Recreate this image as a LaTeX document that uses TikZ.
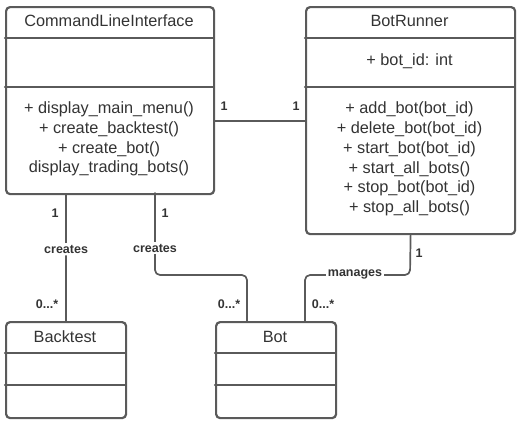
\documentclass[tikz,border=0pt]{standalone}
\usepackage{fontspec}
\setmainfont{Liberation Sans}
\usetikzlibrary{positioning}
\definecolor{umlline}{HTML}{5A5A5A}
\definecolor{umltext}{HTML}{333333}
\tikzset{
  classbox/.style={draw=umlline,line width=2.2pt,rounded corners=4pt,anchor=north west,inner sep=0pt},
  divider/.style={draw=umlline,line width=2.2pt},
  ctext/.style={text=umltext,font=\fontsize{16.3}{19.7}\selectfont,align=center,inner sep=0pt},
  mult/.style={text=umltext,font=\fontsize{12.5}{14}\selectfont\bfseries,inner sep=1pt},
  assoc/.style={draw=umlline,line width=1.7pt,rounded corners=5pt},
  rolelabel/.style={mult,fill=white,inner sep=2pt},
}
\begin{document}
\begin{tikzpicture}[x=1pt,y=-1pt,line cap=round,line join=round]
\useasboundingbox (0,0) rectangle (519,421);
% classes
\node[classbox,minimum width=208pt,minimum height=187pt] (cli) at (5,6) {};
\node[classbox,minimum width=209pt,minimum height=227pt] (br) at (305,6) {};
\node[classbox,minimum width=120pt,minimum height=96pt] (bt) at (5,321) {};
\node[classbox,minimum width=120pt,minimum height=96pt] (bot) at (215,321) {};
\draw[divider] (5,38) -- (213,38);
\draw[divider] (5,87) -- (213,87);
\draw[divider] (305,38) -- (514,38);
\draw[divider] (305,87) -- (514,87);
\draw[divider] (5,353) -- (125,353);
\draw[divider] (5,385) -- (125,385);
\draw[divider] (215,353) -- (335,353);
\draw[divider] (215,385) -- (335,385);
% class texts
\node[ctext] (clititle) at (109,21) {CommandLineInterface};
\node[ctext] (climeth) at (109,139) {+ display\_main\_menu()\\+ create\_backtest()\\+ create\_bot()\\display\_trading\_bots()};
\node[ctext] (brtitle) at (409.5,21) {BotRunner};
\node[ctext] (brattr) at (409.5,61) {+ bot\_id: int};
\node[ctext] (brmeth) at (409.5,159) {+ add\_bot(bot\_id)\\+ delete\_bot(bot\_id)\\+ start\_bot(bot\_id)\\+ start\_all\_bots()\\+ stop\_bot(bot\_id)\\+ stop\_all\_bots()};
\node[ctext] (bttitle) at (65,337) {Backtest};
\node[ctext] (bottitle) at (275,337) {Bot};
% associations
\draw[assoc] (cli.east |- 0,121) -- (br.west |- 0,121);
\draw[assoc] (bt.north |- cli.south) -- (bt.north) node[rolelabel,pos=0.43] (c1) {creates};
\draw[assoc] (155,193) -- (155,275) -- (247,275) -- (247,321);
\node[rolelabel] (c2) at (155,248) {creates};
\draw[assoc] (br.south) -- (410,275) -- (305,275) -- (305,321);
\node[rolelabel] (m1) at (355,274) {manages};
% multiplicities
\node[mult] (m1a) at (224,106) {1};
\node[mult] (m1b) at (296,106) {1};
\node[mult] (m2a) at (55,213) {1};
\node[mult] (m3a) at (165,213) {1};
\node[mult] (m4a) at (419,253) {1};
\node[mult] (m2b) at (47,304) {0...*};
\node[mult] (m3b) at (229,304) {0...*};
\node[mult] (m4b) at (323,304) {0...*};
\end{tikzpicture}
\end{document}
